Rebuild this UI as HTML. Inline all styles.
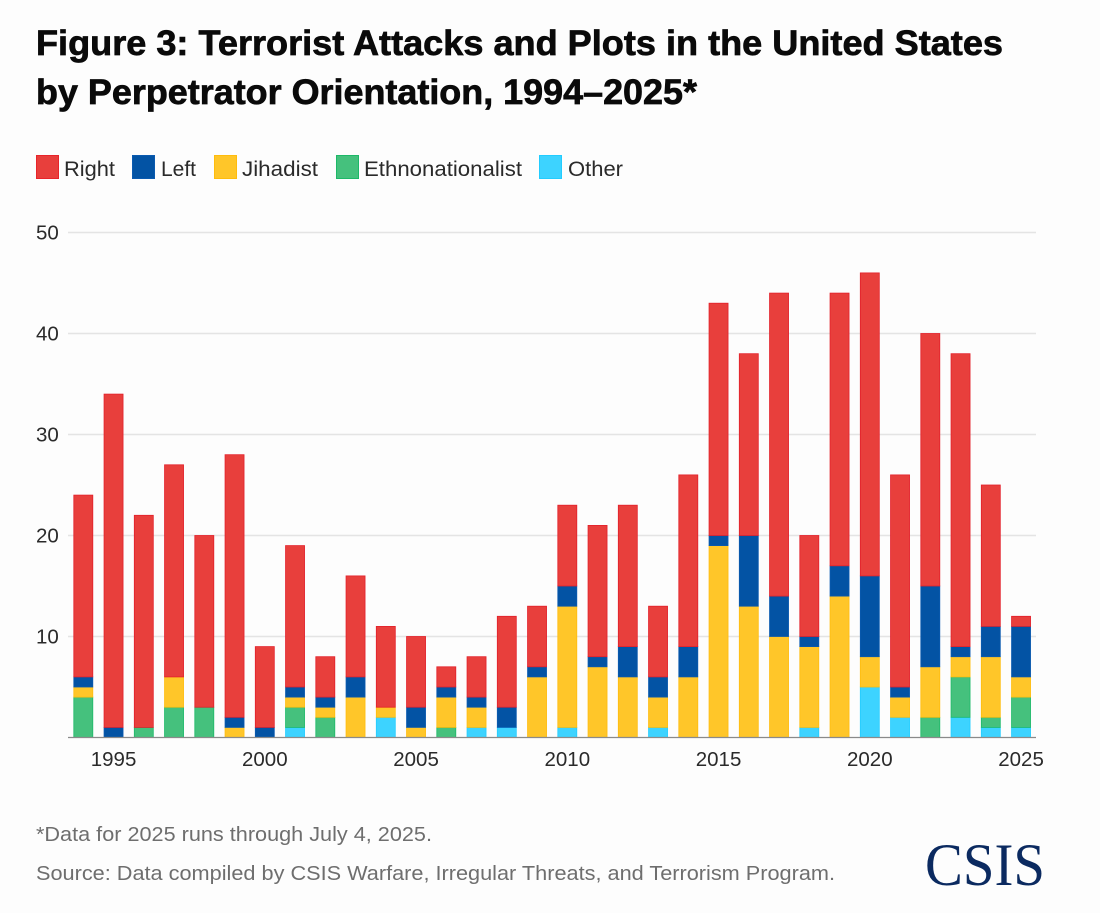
<!DOCTYPE html>
<html lang="en">
<head>
<meta charset="utf-8">
<title>Figure 3: Terrorist Attacks and Plots in the United States</title>
<style>
html,body{margin:0;padding:0;background:#fdfdfd;}
body{width:1100px;height:913px;overflow:hidden;}
svg{display:block;}
text{font-family:"Liberation Sans",sans-serif;}
</style>
</head>
<body>
<svg id="chart" width="1100" height="913" viewBox="0 0 1100 913" xmlns="http://www.w3.org/2000/svg">
  <rect x="0" y="0" width="1100" height="913" fill="#fdfdfd"/>
  <text x="36" y="55" font-size="35" font-weight="700" fill="#0a0a0a" stroke="#0a0a0a" stroke-width="0.7" textLength="967" lengthAdjust="spacingAndGlyphs">Figure 3: Terrorist Attacks and Plots in the United States</text>
  <text x="36" y="104" font-size="35" font-weight="700" fill="#0a0a0a" stroke="#0a0a0a" stroke-width="0.7" textLength="661" lengthAdjust="spacingAndGlyphs">by Perpetrator Orientation, 1994–2025*</text>

  <g>
    <rect x="36.5" y="155.5" width="22" height="23" fill="#e83f3c" stroke="#e8242a"/>
    <text x="64" y="176" font-size="21" fill="#2a2a2a" textLength="51" lengthAdjust="spacingAndGlyphs">Right</text>
    <rect x="132.5" y="155.5" width="22" height="23" fill="#0353a4" stroke="#0a5ab0"/>
    <text x="161" y="176" font-size="21" fill="#2a2a2a" textLength="35" lengthAdjust="spacingAndGlyphs">Left</text>
    <rect x="214.5" y="155.5" width="22" height="23" fill="#ffc629" stroke="#ffbc0d"/>
    <text x="242" y="176" font-size="21" fill="#2a2a2a" textLength="76" lengthAdjust="spacingAndGlyphs">Jihadist</text>
    <rect x="336.5" y="155.5" width="22" height="23" fill="#45c17d" stroke="#1db868"/>
    <text x="364" y="176" font-size="21" fill="#2a2a2a" textLength="158" lengthAdjust="spacingAndGlyphs">Ethnonationalist</text>
    <rect x="539.5" y="155.5" width="22" height="23" fill="#3dd3ff" stroke="#22ccff"/>
    <text x="568" y="176" font-size="21" fill="#2a2a2a" textLength="55" lengthAdjust="spacingAndGlyphs">Other</text>
  </g>

  <g id="grid"></g>
  <g id="y-axis"></g>
  <g id="bars"></g>
  <g id="x-axis"></g>

  <text x="36" y="841" font-size="20" fill="#6e6e6e" textLength="396" lengthAdjust="spacingAndGlyphs">*Data for 2025 runs through July 4, 2025.</text>
  <text x="36" y="880" font-size="20" fill="#6e6e6e" textLength="799" lengthAdjust="spacingAndGlyphs">Source: Data compiled by CSIS Warfare, Irregular Threats, and Terrorism Program.</text>
  <text x="925" y="885" font-size="60" fill="#0b2a60" textLength="120" lengthAdjust="spacingAndGlyphs" style="font-family:'Liberation Serif',serif">CSIS</text>
</svg>
<script>
var years = [1994,1995,1996,1997,1998,1999,2000,2001,2002,2003,2004,2005,2006,2007,2008,2009,2010,2011,2012,2013,2014,2015,2016,2017,2018,2019,2020,2021,2022,2023,2024,2025];
var other = [0,0,0,0,0,0,0,1,0,0,2,0,0,1,1,0,1,0,0,1,0,0,0,0,1,0,5,2,0,2,1,1];
var ethnonationalist = [4,0,1,3,3,0,0,2,2,0,0,0,1,0,0,0,0,0,0,0,0,0,0,0,0,0,0,0,2,4,1,3];
var jihadist = [1,0,0,3,0,1,0,1,1,4,1,1,3,2,0,6,12,7,6,3,6,19,13,10,8,14,3,2,5,2,6,2];
var left = [1,1,0,0,0,1,1,1,1,2,0,2,1,1,2,1,2,1,3,2,3,1,7,4,1,3,8,1,8,1,3,5];
var right = [18,33,21,21,17,26,8,14,4,10,8,7,2,4,9,6,8,13,14,7,17,23,18,30,10,27,30,21,25,29,14,1];
var yTicks = [0,10,20,30,40,50];
var xTicks = [1995,2000,2005,2010,2015,2020,2025];

var NS = 'http://www.w3.org/2000/svg';
function yScale(v){ return 737.5 - v * 10.1; }
function xScale(yr){ return 83.3 + (yr - 1994) * 30.25; }
var barWidth = 20;

var stackOrder = [
  {name:'other', values:other, fill:'#3dd3ff', stroke:'#22ccff'},
  {name:'ethnonationalist', values:ethnonationalist, fill:'#45c17d', stroke:'#1db868'},
  {name:'jihadist', values:jihadist, fill:'#ffc629', stroke:'#ffbc0d'},
  {name:'left', values:left, fill:'#0353a4', stroke:'#0a5ab0'},
  {name:'right', values:right, fill:'#e83f3c', stroke:'#e3202a'}
];

var gridG = document.getElementById('grid');
var yG = document.getElementById('y-axis');
yTicks.forEach(function(t){
  if (t > 0) {
    var ln = document.createElementNS(NS,'line');
    
    
    ln.setAttribute('x1', 68);
    ln.setAttribute('x2', 1036);
    ln.setAttribute('y1', yScale(t));
    ln.setAttribute('y2', yScale(t));
    ln.setAttribute('stroke', '#e4e4e4');
    ln.setAttribute('stroke-width', '1.5');
    gridG.appendChild(ln);
    var lb = document.createElementNS(NS,'text');
    
    
    lb.setAttribute('x', 36);
    lb.setAttribute('y', yScale(t) + 7);
    lb.setAttribute('font-size', '20.5');
    lb.setAttribute('fill', '#2a2a2a');
    lb.textContent = t;
    yG.appendChild(lb);
  }
});

var barsG = document.getElementById('bars');
years.forEach(function(yr, i){
  var base = 0;
  stackOrder.forEach(function(s){
    var v = s.values[i];
    if (v > 0) {
      var r = document.createElementNS(NS,'rect');
      
      
      r.setAttribute('data-series', s.name);
      r.setAttribute('data-year', yr);
      r.setAttribute('x', xScale(yr) - barWidth / 2 + 0.5);
      r.setAttribute('y', yScale(base + v));
      r.setAttribute('width', barWidth - 1);
      r.setAttribute('height', yScale(base) - yScale(base + v));
      r.setAttribute('fill', s.fill);
      r.setAttribute('stroke', s.stroke);
      r.setAttribute('stroke-width', '0.8');
      barsG.appendChild(r);
    }
    base += v;
  });
});

var xG = document.getElementById('x-axis');
var axisLine = document.createElementNS(NS,'line');


axisLine.setAttribute('x1', 68);
axisLine.setAttribute('x2', 1036);
axisLine.setAttribute('y1', yScale(0));
axisLine.setAttribute('y2', yScale(0));
axisLine.setAttribute('stroke', '#8a8a8a');
axisLine.setAttribute('stroke-width', '1.2');
xG.appendChild(axisLine);
xTicks.forEach(function(yr){
  var t = document.createElementNS(NS,'text');
  
  
  t.setAttribute('x', xScale(yr));
  t.setAttribute('y', 766);
  t.setAttribute('font-size', '20.5');
  t.setAttribute('fill', '#2a2a2a');
  t.setAttribute('text-anchor', 'middle');
  t.textContent = yr;
  xG.appendChild(t);
});
</script>
</body>
</html>
